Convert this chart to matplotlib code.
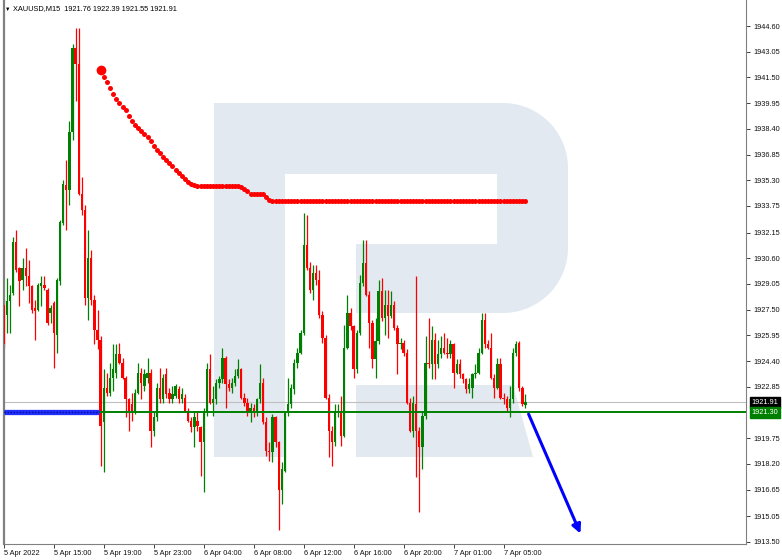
import numpy as np
import matplotlib
matplotlib.use("Agg")
import matplotlib.pyplot as plt
from matplotlib.patches import Polygon

plt.rcParams['font.family'] = ['Liberation Sans', 'DejaVu Sans']

W, H = 782, 560

# XAUUSD M15 candles (index 0 = 5 Apr 11:00)
opens = [
    1927.8, 1927.2, 1928.0, 1928.5, 1931.6, 1930.0, 1929.3, 1930.0, 1929.5, 1928.9,
    1927.6, 1927.5, 1928.9, 1929.0, 1928.7, 1927.3, 1927.9, 1926.0, 1929.2, 1932.7,
    1935.0, 1934.7, 1938.2, 1943.3, 1942.3, 1934.5, 1933.5, 1928.2, 1930.6, 1928.1,
    1926.3, 1925.7, 1920.7, 1922.8, 1922.5, 1923.4, 1923.7, 1924.8, 1924.3, 1923.4,
    1922.1, 1921.8, 1921.3, 1922.5, 1923.7, 1922.9, 1923.4, 1923.7, 1920.2, 1921.0,
    1922.8, 1922.1, 1923.6, 1922.5, 1922.1, 1922.3, 1922.7, 1922.1, 1922.2, 1921.4,
    1920.8, 1920.4, 1920.8, 1920.4, 1919.5, 1921.4, 1923.9, 1921.9, 1922.1, 1923.1,
    1923.3, 1924.6, 1923.0, 1922.8, 1923.1, 1923.5, 1923.9, 1922.2, 1921.9, 1921.3,
    1921.6, 1921.3, 1922.1, 1923.1, 1920.7, 1919.0, 1918.9, 1921.0, 1919.5, 1916.6,
    1917.8, 1921.3, 1921.8, 1922.7, 1924.3, 1924.9, 1926.1, 1931.4, 1930.0, 1928.7,
    1929.7, 1929.3, 1927.2, 1925.8, 1922.2, 1920.2, 1919.5, 1921.3, 1921.4, 1919.9,
    1925.2, 1927.3, 1926.5, 1923.9, 1926.1, 1929.1, 1930.3, 1928.4, 1926.7, 1924.5,
    1925.6, 1928.6, 1927.0, 1927.8, 1927.1, 1927.8, 1926.4, 1925.4, 1925.5, 1924.9,
    1921.9, 1920.2, 1921.8, 1920.2, 1919.2, 1921.1, 1924.3, 1924.2, 1925.7, 1924.2,
    1924.8, 1925.2, 1924.9, 1924.8, 1925.4, 1923.7, 1924.2, 1923.6, 1923.3, 1922.7,
    1922.8, 1923.6, 1923.7, 1924.9, 1926.9, 1925.4, 1925.2, 1923.4, 1922.8, 1924.2,
    1922.2, 1922.1, 1921.6, 1922.1, 1924.9, 1925.5, 1922.8, 1921.76,
]
highs = [
    1928.1, 1929.4, 1929.0, 1931.9, 1932.3, 1930.1, 1930.6, 1931.2, 1930.5, 1929.0,
    1928.1, 1929.1, 1929.5, 1929.5, 1928.8, 1927.8, 1928.0, 1929.4, 1932.9, 1935.3,
    1936.5, 1938.9, 1943.5, 1944.5, 1944.5, 1935.5, 1933.8, 1932.3, 1931.1, 1928.4,
    1927.5, 1925.9, 1923.9, 1923.7, 1924.3, 1925.4, 1925.4, 1925.5, 1924.6, 1923.5,
    1922.2, 1922.5, 1922.7, 1924.3, 1924.0, 1923.9, 1924.6, 1923.9, 1921.3, 1923.1,
    1924.0, 1923.6, 1924.0, 1922.8, 1922.9, 1923.0, 1922.9, 1922.8, 1922.4, 1921.6,
    1921.0, 1921.3, 1921.4, 1920.5, 1921.6, 1924.3, 1924.8, 1922.9, 1923.3, 1923.5,
    1925.2, 1924.7, 1923.3, 1923.4, 1923.9, 1924.5, 1924.0, 1922.5, 1922.2, 1921.9,
    1921.8, 1922.2, 1924.2, 1923.4, 1921.0, 1919.5, 1921.2, 1921.1, 1919.6, 1918.3,
    1921.4, 1923.4, 1923.0, 1924.5, 1925.2, 1926.3, 1933.3, 1933.2, 1930.4, 1930.2,
    1930.2, 1929.9, 1927.4, 1926.0, 1922.4, 1920.5, 1921.8, 1921.8, 1922.3, 1926.6,
    1928.4, 1927.6, 1926.6, 1926.3, 1929.6, 1931.7, 1931.7, 1928.6, 1926.9, 1927.0,
    1929.3, 1929.4, 1928.7, 1928.7, 1928.6, 1928.0, 1926.6, 1925.8, 1925.7, 1925.1,
    1922.2, 1922.3, 1929.5, 1920.4, 1921.3, 1925.9, 1927.0, 1926.5, 1926.1, 1925.7,
    1925.9, 1926.1, 1925.8, 1925.7, 1925.5, 1924.5, 1924.5, 1923.7, 1923.4, 1923.4,
    1923.7, 1924.2, 1925.2, 1927.3, 1927.3, 1925.7, 1926.1, 1923.6, 1924.6, 1924.6,
    1922.5, 1922.3, 1922.9, 1925.2, 1925.6, 1925.6, 1922.9, 1922.39,
]
lows = [
    1925.2, 1926.1, 1926.1, 1928.4, 1929.8, 1927.7, 1928.7, 1928.9, 1927.9, 1927.3,
    1925.7, 1927.4, 1927.7, 1928.7, 1926.6, 1926.7, 1924.0, 1924.9, 1929.0, 1932.6,
    1932.3, 1933.8, 1937.7, 1940.1, 1934.4, 1933.2, 1927.8, 1926.9, 1927.8, 1925.4,
    1925.1, 1918.1, 1917.7, 1922.3, 1922.3, 1922.6, 1923.4, 1924.2, 1923.3, 1921.0,
    1920.2, 1920.8, 1921.2, 1922.4, 1922.1, 1922.6, 1923.1, 1919.2, 1919.9, 1920.8,
    1921.9, 1921.9, 1922.2, 1921.9, 1921.9, 1922.2, 1921.9, 1921.9, 1921.3, 1920.7,
    1920.1, 1919.2, 1920.2, 1917.5, 1916.5, 1921.1, 1921.8, 1921.1, 1921.8, 1922.8,
    1923.1, 1921.6, 1922.6, 1922.5, 1922.9, 1923.4, 1922.1, 1921.7, 1921.1, 1920.7,
    1921.0, 1921.1, 1921.9, 1920.6, 1918.7, 1918.4, 1918.3, 1919.2, 1914.2, 1915.8,
    1917.7, 1921.1, 1921.6, 1922.4, 1924.0, 1924.8, 1926.0, 1929.9, 1928.5, 1928.1,
    1929.0, 1927.0, 1925.5, 1922.1, 1918.6, 1918.1, 1919.3, 1921.0, 1919.3, 1919.8,
    1925.1, 1926.3, 1923.4, 1923.7, 1926.0, 1928.9, 1928.3, 1925.2, 1924.0, 1923.4,
    1925.4, 1926.8, 1926.0, 1925.8, 1927.0, 1926.3, 1923.6, 1925.1, 1924.7, 1921.8,
    1920.1, 1919.8, 1917.4, 1915.3, 1917.9, 1920.9, 1924.0, 1923.3, 1923.3, 1924.0,
    1924.6, 1924.8, 1924.6, 1924.6, 1922.8, 1923.6, 1923.4, 1923.1, 1922.5, 1922.5,
    1922.2, 1923.4, 1923.6, 1924.8, 1925.2, 1925.1, 1923.3, 1922.2, 1922.7, 1922.1,
    1921.8, 1921.3, 1921.0, 1921.9, 1924.7, 1922.6, 1921.7, 1921.55,
]
closes = [
    1925.4, 1928.0, 1928.4, 1931.6, 1929.9, 1929.2, 1930.0, 1929.5, 1928.9, 1927.5,
    1927.4, 1929.0, 1929.1, 1928.8, 1926.7, 1927.6, 1926.1, 1929.3, 1932.8, 1935.1,
    1934.7, 1938.2, 1943.3, 1942.3, 1934.5, 1933.5, 1928.2, 1930.6, 1928.1, 1926.3,
    1925.7, 1920.5, 1922.8, 1922.5, 1923.4, 1923.9, 1924.8, 1924.3, 1923.4, 1922.1,
    1921.4, 1921.4, 1922.5, 1923.7, 1923.1, 1923.6, 1923.7, 1920.2, 1921.0, 1922.8,
    1922.1, 1923.4, 1922.4, 1922.1, 1922.4, 1922.9, 1922.1, 1922.4, 1921.4, 1920.8,
    1920.4, 1921.0, 1920.5, 1919.5, 1921.4, 1923.9, 1921.9, 1922.1, 1923.1, 1923.3,
    1924.6, 1923.0, 1922.8, 1923.1, 1923.5, 1923.9, 1922.2, 1921.9, 1921.3, 1921.6,
    1921.3, 1922.1, 1923.1, 1920.7, 1919.0, 1918.9, 1921.0, 1919.5, 1916.6, 1917.9,
    1921.3, 1921.8, 1922.8, 1924.3, 1924.9, 1926.1, 1931.4, 1930.0, 1928.7, 1929.7,
    1929.3, 1927.2, 1925.8, 1922.2, 1920.2, 1919.5, 1921.3, 1921.4, 1919.9, 1925.2,
    1927.3, 1926.5, 1923.9, 1926.1, 1929.1, 1930.3, 1928.4, 1926.7, 1924.5, 1925.6,
    1928.6, 1927.0, 1927.8, 1927.1, 1927.8, 1926.4, 1925.4, 1925.5, 1924.9, 1921.9,
    1920.2, 1921.9, 1920.2, 1919.2, 1921.1, 1924.3, 1924.2, 1925.7, 1924.2, 1924.8,
    1925.2, 1924.9, 1924.8, 1925.4, 1923.7, 1924.2, 1923.6, 1923.3, 1922.7, 1923.0,
    1923.6, 1923.7, 1924.9, 1926.9, 1925.4, 1925.2, 1923.4, 1922.8, 1924.2, 1922.2,
    1922.1, 1921.6, 1922.1, 1924.9, 1925.4, 1922.8, 1921.8, 1921.91,
]

# red dotted indicator, starts at candle 31
ind_start = 31
ind_values = [
    1941.95, 1941.53, 1941.23, 1940.86, 1940.50, 1940.20, 1939.96, 1939.72, 1939.54, 1939.18,
    1938.87, 1938.63, 1938.45, 1938.27, 1938.09, 1937.91, 1937.67, 1937.37, 1937.13, 1936.94,
    1936.70, 1936.52, 1936.34, 1936.16, 1935.92, 1935.74, 1935.56, 1935.38, 1935.20, 1935.08,
    1935.01, 1934.95, 1934.95, 1934.95, 1934.95, 1934.95, 1934.95, 1934.95, 1934.95, 1934.95,
    1934.95, 1934.95, 1934.95, 1934.95, 1934.95, 1934.90, 1934.80, 1934.65, 1934.50, 1934.45,
    1934.45, 1934.45, 1934.45, 1934.30, 1934.10, 1934.05, 1934.05, 1934.05, 1934.05, 1934.05,
    1934.05, 1934.05, 1934.05, 1934.05, 1934.05, 1934.05, 1934.05, 1934.05, 1934.05, 1934.05,
    1934.05, 1934.05, 1934.05, 1934.05, 1934.05, 1934.05, 1934.05, 1934.05, 1934.05, 1934.05,
    1934.05, 1934.05, 1934.05, 1934.05, 1934.05, 1934.05, 1934.05, 1934.05, 1934.05, 1934.05,
    1934.05, 1934.05, 1934.05, 1934.05, 1934.05, 1934.05, 1934.05, 1934.05, 1934.05, 1934.05,
    1934.05, 1934.05, 1934.05, 1934.05, 1934.05, 1934.05, 1934.05, 1934.05, 1934.05, 1934.05,
    1934.05, 1934.05, 1934.05, 1934.05, 1934.05, 1934.05, 1934.05, 1934.05, 1934.05, 1934.05,
    1934.05, 1934.05, 1934.05, 1934.05, 1934.05, 1934.05, 1934.05, 1934.05, 1934.05, 1934.05,
    1934.05, 1934.05, 1934.05, 1934.05, 1934.05, 1934.05, 1934.05,
]

support_level = 1921.30
bid_level = 1921.91
blue_line_end = 30.5          # candle index where the blue level stops
arrow_from = (168.0, 1921.2)  # forecast arrow (candle index, price)
arrow_to = (184.6, 1914.0)

time_ticks = [0, 16, 32, 48, 64, 80, 96, 112, 128, 144, 160]
time_labels = ["5 Apr 2022", "5 Apr 15:00", "5 Apr 19:00", "5 Apr 23:00",
               "6 Apr 04:00", "6 Apr 08:00", "6 Apr 12:00", "6 Apr 16:00",
               "6 Apr 20:00", "7 Apr 01:00", "7 Apr 05:00"]
price_labels = ["1944.60", "1943.05", "1941.50", "1939.95", "1938.40", "1936.85",
                "1935.30", "1933.75", "1932.15", "1930.60", "1929.05", "1927.50",
                "1925.95", "1924.40", "1922.85", "1919.75", "1918.20", "1916.65",
                "1915.05", "1913.50"]

GREEN = "#008000"
RED = "#ff0000"
FS = 5.3


def px(x, y):
    # pixel position in the picture -> figure fraction
    return (x / W, 1 - y / H)


fig = plt.figure(figsize=(W / 100, H / 100), dpi=100)
ax = fig.add_axes([3.5 / W, 16 / H, (746 - 3.5) / W, 544 / H])
ax.set_xlim(-0.1, 237.6)
ax.set_ylim(1913.37, 1946.17)

# watermark "R" logo
arc_top = [(503 + 65 * np.cos(t), 168 - 65 * np.sin(t)) for t in np.linspace(np.pi / 2, 0, 20)]
arc_bot = [(503 + 65 * np.cos(t), 248 - 65 * np.sin(t)) for t in np.linspace(0, -np.pi / 2, 20)]
r_body = [(214, 103)] + arc_top + arc_bot + [(356, 313), (356, 244), (497, 244),
                                             (497, 174), (285, 174), (285, 457), (214, 457)]
r_leg = [(356, 385), (513, 385), (533, 457), (356, 457)]
for shape in (r_body, r_leg):
    ax.add_patch(Polygon([px(*p) for p in shape], closed=True, transform=fig.transFigure,
                         facecolor="#e3e9f1", edgecolor="none", zorder=0.5))

# levels
ax.axhline(bid_level, color="#c0c0c0", lw=0.8, zorder=1)
ax.axhline(support_level, color=GREEN, lw=1.4, zorder=4)
ax.hlines(support_level, -0.1, blue_line_end, color="#1f2fff", lw=3.8, zorder=5)
ax.hlines(support_level, -0.1, blue_line_end, color="#0a0a8c", lw=1.0,
          linestyles=(0, (1, 1.2)), zorder=6)

# candles
idx = np.arange(len(closes))
o = np.array(opens)
c = np.array(closes)
colors = np.where(c >= o, GREEN, RED)
ax.vlines(idx, lows, highs, colors=colors, lw=0.9, zorder=2)
body_h = np.maximum(np.abs(c - o), 0.06)
ax.bar(idx, body_h, bottom=np.minimum(o, c), width=0.75, color=colors,
       linewidth=0, zorder=3)

# red dotted indicator
ind_idx = np.arange(ind_start, ind_start + len(ind_values))
ax.plot(ind_idx, ind_values, "o", color=RED, ms=3.6, mec="none", zorder=7)
ax.plot(ind_idx[0], ind_values[0], "o", color=RED, ms=7, mec="none", zorder=7)

# forecast arrow
ax.annotate("", xy=arrow_to, xytext=arrow_from,
            arrowprops=dict(arrowstyle="-|>", color="#0000ff", lw=2.2,
                            mutation_scale=13, shrinkA=0, shrinkB=0), zorder=8)

# axes styling
for side in ("left", "right", "bottom"):
    ax.spines[side].set_color("#808080")
ax.spines["left"].set_linewidth(1.6)
ax.spines["top"].set_visible(False)

ax.yaxis.tick_right()
ax.set_yticks([float(s) for s in price_labels])
ax.set_yticklabels(price_labels)
ax.set_xticks(time_ticks)
ax.set_xticklabels(time_labels, ha="left")
ax.tick_params(axis="y", direction="out", length=3, width=0.7, color="#404040",
               labelsize=FS, pad=2, labelcolor="#111111")
ax.tick_params(axis="x", direction="out", length=3, width=0.7, color="#404040",
               labelsize=FS, pad=1.5, labelcolor="#111111")

# price boxes on the right scale
ax.annotate("1921.91", xy=(1.0, bid_level), xycoords=("axes fraction", "data"),
            xytext=(4, 0), textcoords="offset points", fontsize=FS, color="white",
            va="center", ha="left", annotation_clip=False,
            bbox=dict(boxstyle="square,pad=0.25", fc="black", ec="black"))
ax.annotate("1921.30", xy=(1.0, support_level), xycoords=("axes fraction", "data"),
            xytext=(4, 0), textcoords="offset points", fontsize=FS, color="white",
            va="center", ha="left", annotation_clip=False,
            bbox=dict(boxstyle="square,pad=0.25", fc=GREEN, ec=GREEN))

# header
fig.text(*px(5, 9), "\u25bc", fontsize=4, color="black", va="center", ha="left")
fig.text(*px(13, 9), "XAUUSD,M15  1921.76 1922.39 1921.55 1921.91",
         fontsize=FS, color="black", va="center", ha="left")

fig.savefig("out.png", dpi=100)
plt.close(fig)
